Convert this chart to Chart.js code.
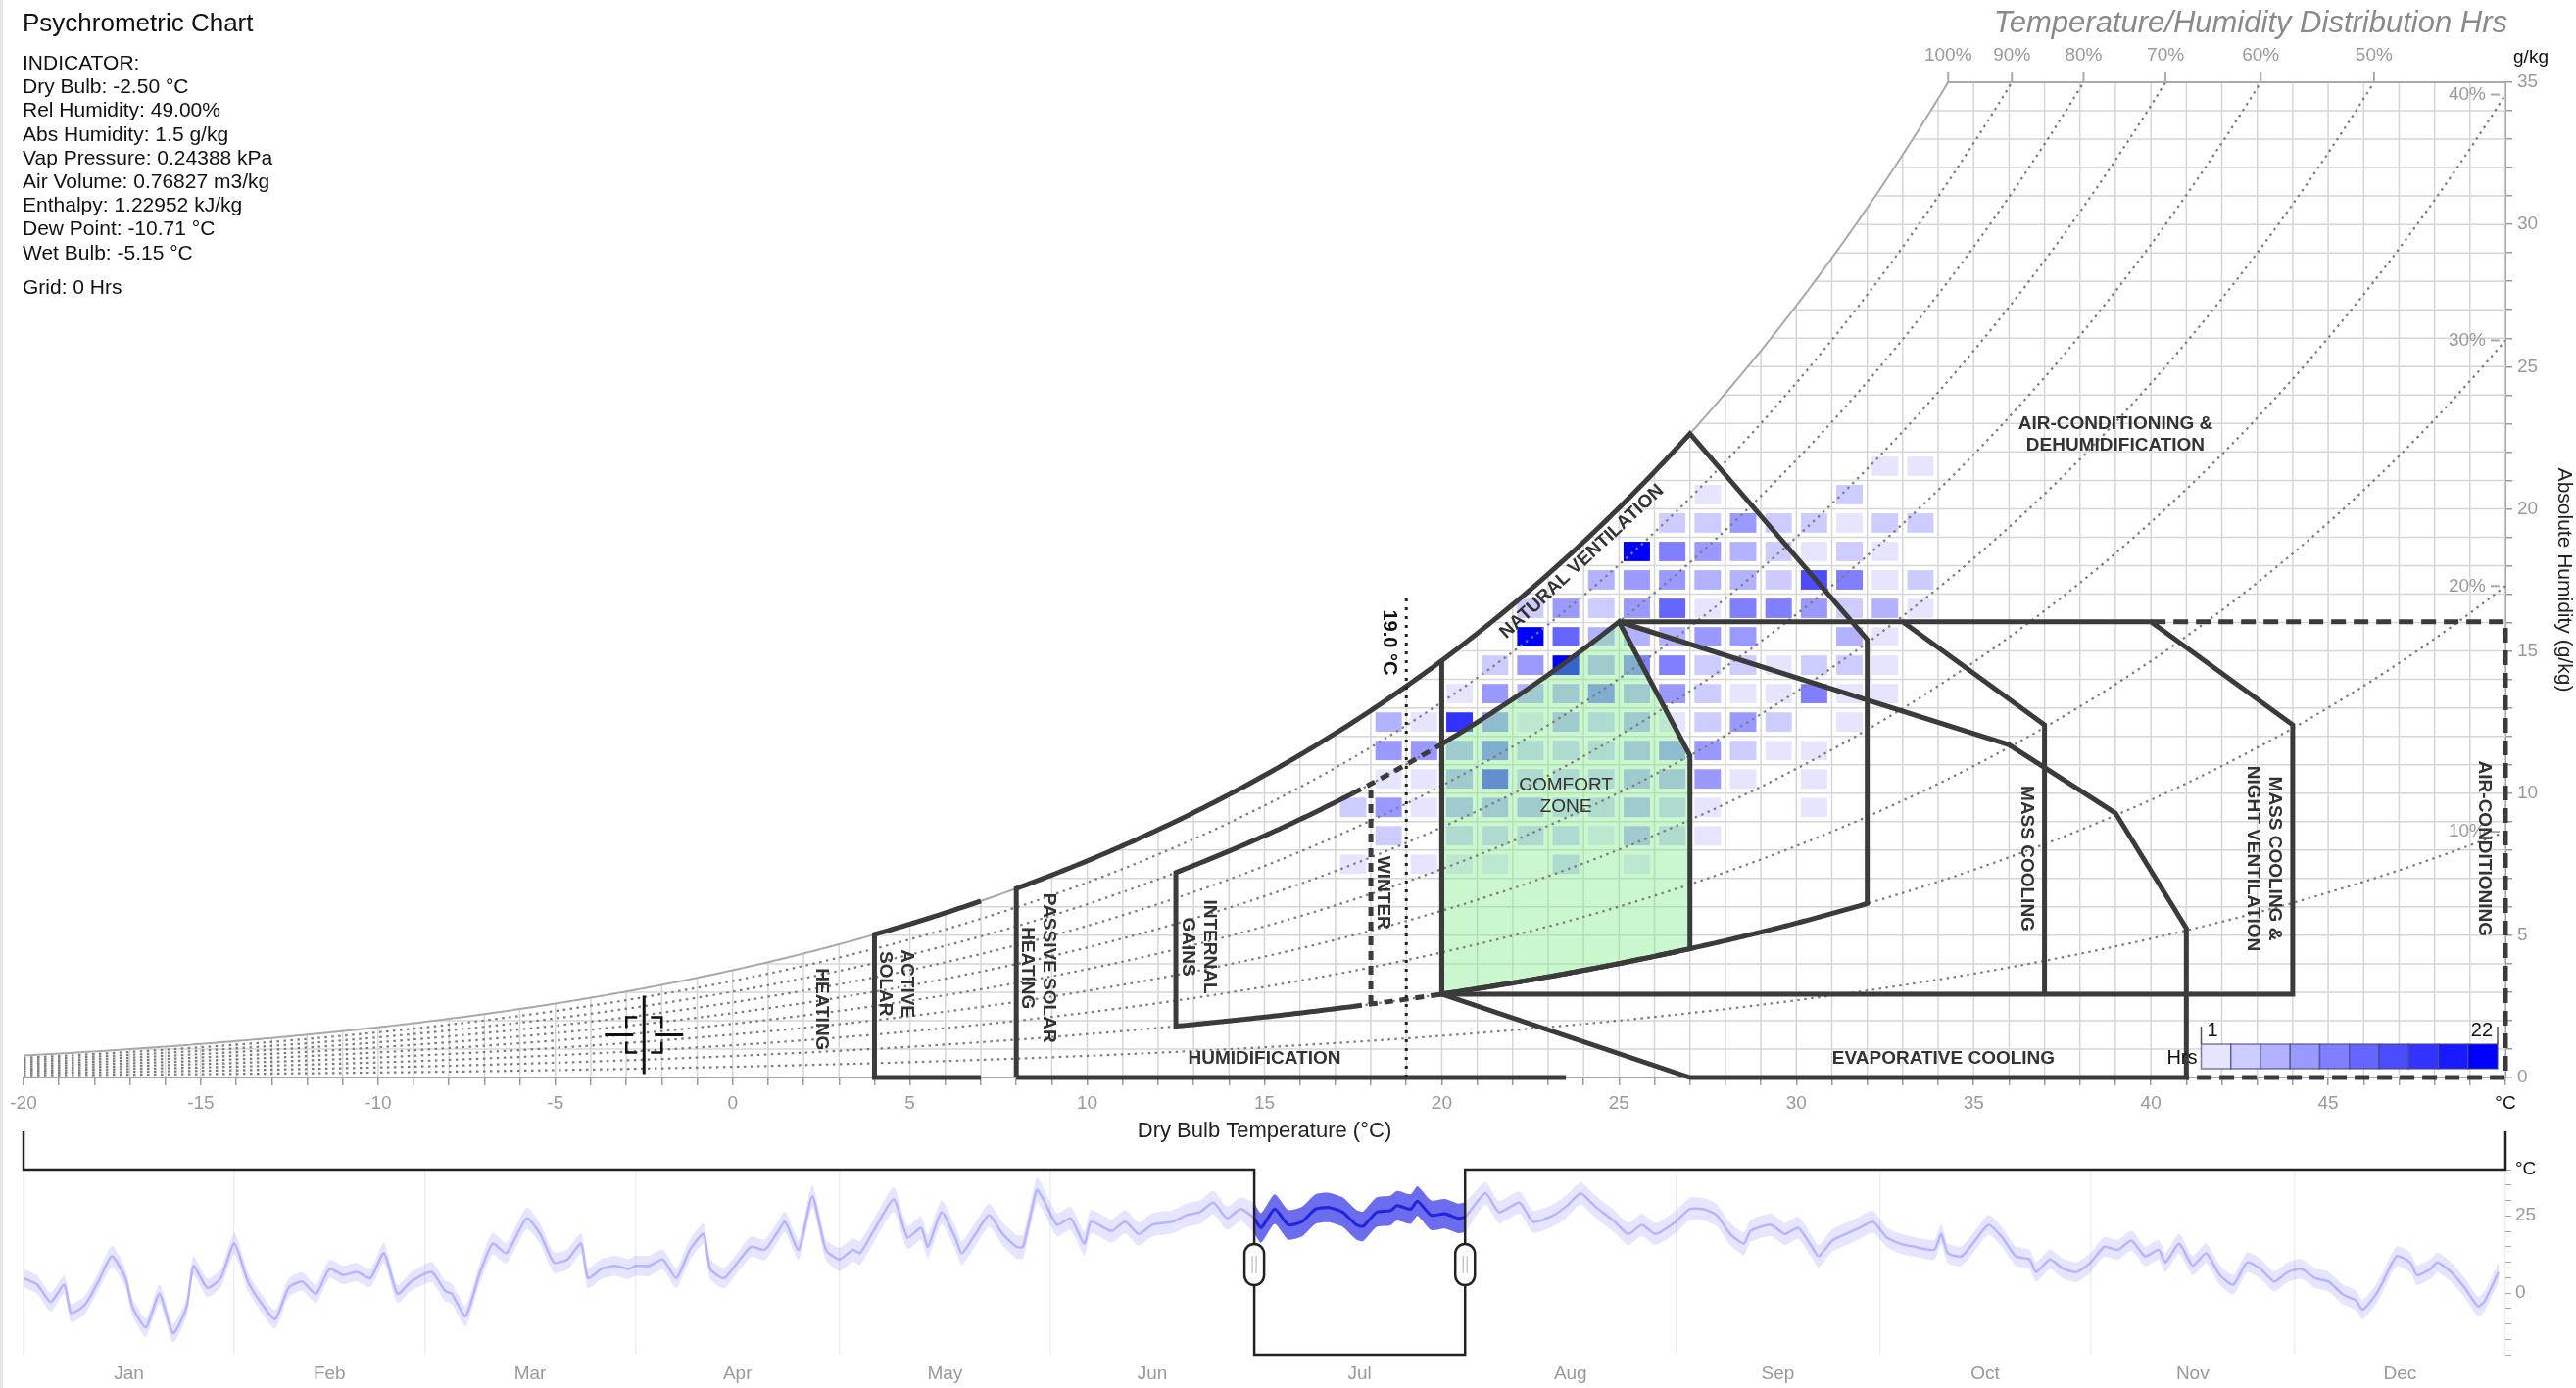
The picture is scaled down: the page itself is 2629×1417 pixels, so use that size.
<!DOCTYPE html>
<html>
<head>
<meta charset="utf-8">
<title>Psychrometric Chart</title>
<script src="https://cdn.jsdelivr.net/npm/chart.js@4.4.1/dist/chart.umd.min.js"></script>
<style>
  html, body { margin:0; padding:0; background:#fff; }
  body { width:2629px; height:1417px; position:relative; overflow:hidden; font-family:"Liberation Sans", Arial, Helvetica, sans-serif; }
  #frame { position:absolute; left:0; top:0; width:3px; height:1417px; background:#e6e6e6; }
  #psy { position:absolute; left:0; top:0; }
  #tl { position:absolute; left:0; top:1140px; }
  #title { position:absolute; left:23px; top:8px; font-size:26px; color:#111; white-space:nowrap; }
  #indicator { position:absolute; left:23px; top:52px; font-size:21px; line-height:24.2px; color:#111; white-space:nowrap; }
  #indicator .gap { margin-top:11px; }
  #rtitle { position:absolute; right:70px; top:5px; font-size:31px; font-style:italic; color:#8a8a8a; white-space:nowrap; }
</style>
</head>
<body>
<div id="frame"></div>
<canvas id="psy" width="2629" height="1180"></canvas>
<canvas id="tl" width="2629" height="277"></canvas>
<div id="title">Psychrometric Chart</div>
<div id="indicator">INDICATOR:<br>Dry Bulb: -2.50 °C<br>Rel Humidity: 49.00%<br>Abs Humidity: 1.5 g/kg<br>Vap Pressure: 0.24388 kPa<br>Air Volume: 0.76827 m3/kg<br>Enthalpy: 1.22952 kJ/kg<br>Dew Point: -10.71 °C<br>Wet Bulb: -5.15 °C<div class="gap">Grid: 0 Hrs</div></div>
<div id="rtitle">Temperature/Humidity Distribution Hrs</div>
<script>
const FF = '"Liberation Sans", Arial, Helvetica, sans-serif';
Chart.defaults.font.family = FF;

// ---------- chart ranges ----------
const tempMin = -20, tempMax = 50, humMax = 35;
const rhCurves = [0.1, 0.2, 0.3, 0.4, 0.5, 0.6, 0.7, 0.8, 0.9];
const topRhLabels = [1.0, 0.9, 0.8, 0.7, 0.6, 0.5];
const sideRhLabels = [0.4, 0.3, 0.2, 0.1];

// ---------- indicator ----------
const indicatorTemp = -2.5, indicatorHum = 1.5;

// ---------- July hourly distribution (1 °C x 1 g/kg cells) ----------
const heatRowHum   = [21, 20, 19, 18, 17, 16, 15, 14, 13, 12, 11, 10, 9, 8, 7];
const heatRowStart = [32, 27, 26, 25, 24, 22, 21, 21, 20, 18, 18, 18, 17, 17, 17];
const heatRowHours = [
  [2, 1],
  [2, 0, 0, 0, 3],
  [3, 4, 7, 3, 4, 1, 4, 4],
  [21, 10, 7, 5, 3, 1, 3, 2],
  [5, 8, 8, 5, 5, 3, 15, 9, 1, 3],
  [4, 8, 3, 8, 12, 2, 10, 9, 8, 3, 5, 2],
  [0, 22, 12, 5, 6, 5, 8, 7, 0, 0, 5, 1],
  [4, 8, 20, 6, 11, 11, 3, 3, 1, 3, 3, 2],
  [2, 8, 6, 6, 9, 5, 7, 4, 2, 1, 10, 2, 2],
  [5, 2, 17, 7, 2, 6, 3, 6, 2, 3, 8, 4, 0, 1],
  [8, 7, 6, 10, 4, 3, 4, 5, 8, 7, 4, 2, 1],
  [2, 2, 6, 14, 3, 3, 4, 5, 6, 8, 2, 0, 2],
  [4, 7, 2, 5, 5, 5, 4, 3, 5, 3, 1, 0, 0, 1],
  [0, 4, 0, 4, 4, 4, 4, 2, 5, 4, 2],
  [1, 0, 1, 2, 2, 0, 4, 0, 2]
];
const legendMin = 1, legendMax = 22, legendSteps = 10;

// ---------- yearly dry bulb temperature (day of year, °C) ----------
const monthNames = ['Jan','Feb','Mar','Apr','May','Jun','Jul','Aug','Sep','Oct','Nov','Dec'];
const monthStart = [0, 31, 59, 90, 120, 151, 181, 212, 243, 273, 304, 334, 365];
const selStart = 181, selEnd = 212;
const tlDay = [0,2,4,6,7,9,11,13,15,16,18,20,22,24,25,27,29,31,33,35,37,39,41,43,45,47,49,51,53,55,57,
  60,62,63,65,67,69,71,74,76,78,80,82,83,85,87,89,90,92,94,96,98,100,101,103,105,107,109,111,112,114,116,118,
  120,122,123,125,128,130,132,133,135,137,138,140,142,144,146,147,149,150,152,154,156,157,160,162,164,166,169,171,173,175,177,179,
  181,182,184,186,188,190,192,194,196,197,199,201,202,204,205,207,209,211,212,
  215,217,220,222,225,227,229,231,234,236,238,240,243,245,247,249,251,253,254,257,259,261,263,264,266,268,270,272,
  274,276,278,281,282,283,285,287,289,291,293,295,296,298,300,302,304,306,308,310,312,314,315,317,319,321,323,325,327,329,331,333,335,337,339,341,343,344,346,347,349,351,352,354,355,357,359,361,362,364];
const tlMean = [4.8,2.7,-2.9,2.7,-6.5,-3.9,3.7,11.9,4.8,-4.4,-11.1,-0.3,-13.1,-4.4,8.8,1.7,4.8,16.0,3.7,-3.4,-8.5,1.7,3.7,-0.3,7.8,5.8,6.8,4.8,12.9,-0.3,3.7,
  6.8,0.7,-0.3,-7.5,5.8,16.0,12.9,24.2,19.1,9.9,10.9,16.0,4.8,7.8,8.8,7.8,8.8,8.8,10.9,4.8,14.0,19.1,7.8,4.8,9.9,15.0,14.0,20.1,23.1,14.0,31.3,14.0,
  10.9,14.0,12.9,20.1,30.3,18.0,21.1,15.0,26.2,18.0,12.9,19.1,25.2,19.1,15.0,15.0,33.4,30.3,22.1,24.2,16.0,23.1,20.1,23.1,19.1,22.1,23.1,25.2,26.2,29.3,24.2,27.2,
  24.2,21.1,27.2,22.1,23.1,27.2,27.7,26.2,22.1,21.6,26.2,26.7,28.3,27.2,29.8,25.2,25.7,24.2,24.6,
  32.3,26.2,29.3,23.1,25.2,28.3,32.3,28.3,23.1,19.1,22.1,19.1,23.1,27.2,27.2,25.2,19.1,16.0,20.1,22.1,19.1,21.1,15.0,11.9,17.0,19.1,21.1,23.1,
  18.0,16.0,15.0,14.0,19.1,12.9,11.9,17.0,22.1,18.0,11.9,10.9,6.8,10.9,7.8,6.8,9.9,15.0,14.0,17.0,11.9,14.0,9.9,16.0,8.9,12.9,5.8,2.7,9.9,7.8,3.7,6.8,7.8,4.8,3.7,-0.3,-2.4,-5.4,-0.3,3.7,11.9,9.9,5.8,7.8,9.9,6.8,1.7,-4.4,-2.4,6.8];
const tlLow = [1.8,-0.3,-5.9,-0.3,-9.5,-6.9,0.7,8.4,1.8,-7.4,-14.1,-3.3,-16.1,-7.4,5.8,-1.3,1.8,12.5,0.7,-6.4,-11.5,-1.3,0.7,-3.3,4.8,2.8,3.8,1.8,9.6,-3.3,0.7,
  3.5,-2.6,-3.6,-10.8,2.5,12.5,9.6,20.7,15.8,6.6,7.6,12.7,1.5,4.5,5.5,4.5,5.5,5.5,7.6,1.5,10.7,15.8,4.5,1.5,6.6,11.7,10.7,16.8,19.8,10.7,27.6,10.7,
  7.1,10.2,9.1,16.3,26.3,14.2,17.3,11.2,22.4,14.2,9.1,15.3,21.4,15.3,11.2,11.2,29.4,26.5,18.3,20.4,12.2,19.3,16.3,19.3,15.3,18.3,19.3,21.4,22.4,25.5,20.4,23.4,
  19.4,16.3,22.4,17.3,18.3,22.4,22.9,21.4,17.3,16.8,21.4,21.9,23.5,22.4,25.0,20.4,20.9,19.4,19.8,
  28.7,22.6,25.7,19.5,21.6,24.7,28.7,24.7,19.5,15.5,18.5,15.5,19.5,23.6,23.6,21.6,15.5,12.4,16.5,18.5,15.5,17.5,11.4,8.3,13.4,15.5,17.5,19.5,
  14.8,12.8,11.8,10.8,15.9,9.7,8.7,13.8,18.9,14.8,8.7,7.7,3.6,7.7,4.6,3.6,6.7,11.8,10.8,13.8,8.7,10.8,6.7,12.8,5.7,9.7,2.6,-0.5,6.7,4.6,0.5,3.6,4.6,1.6,0.5,-3.5,-5.6,-8.6,-3.5,0.5,8.7,6.7,2.6,4.6,6.7,3.6,-1.5,-7.6,-5.6,3.6];
const tlHigh = [7.8,5.7,0.1,5.7,-3.5,-0.9,6.7,15.4,7.8,-1.4,-8.1,2.7,-10.1,-1.4,11.8,4.7,7.8,19.5,6.7,-0.4,-5.5,4.7,6.7,2.7,10.8,8.8,9.8,7.8,16.2,2.7,6.7,
  10.1,4.0,3.0,-4.2,9.1,19.5,16.2,27.7,22.4,13.2,14.2,19.3,8.1,11.1,12.1,11.1,12.1,12.1,14.2,8.1,17.3,22.4,11.1,8.1,13.2,18.3,17.3,23.4,26.4,17.3,35.0,17.3,
  14.7,17.8,16.7,23.9,34.3,21.8,24.9,18.8,30.0,21.8,16.7,22.9,29.0,22.9,18.8,18.8,37.4,34.1,25.9,28.0,19.8,26.9,23.9,26.9,22.9,25.9,26.9,29.0,30.0,33.1,28.0,31.0,
  29.0,25.9,32.0,26.9,27.9,32.0,32.5,31.0,26.9,26.4,31.0,31.5,33.1,32.0,34.6,30.0,30.5,29.0,29.4,
  35.9,29.8,32.9,26.7,28.8,31.9,35.9,31.9,26.7,22.7,25.7,22.7,26.7,30.8,30.8,28.8,22.7,19.6,23.7,25.7,22.7,24.7,18.6,15.5,20.6,22.7,24.7,26.7,
  21.2,19.2,18.2,17.2,22.3,16.1,15.1,20.2,25.3,21.2,15.1,14.1,10.0,14.1,11.0,10.0,13.1,18.2,17.2,20.2,15.1,17.2,13.1,19.2,12.1,16.1,9.0,5.9,13.1,11.0,6.9,10.0,11.0,8.0,6.9,2.9,0.8,-2.2,2.9,6.9,15.1,13.1,9.0,11.0,13.1,10.0,4.9,-1.2,0.8,10.0];

// ---------- psychrometrics ----------
function satPressure(t) { return 0.61094 * Math.exp(17.625 * t / (t + 243.04)); }
function satHum(t) { const p = satPressure(t); return 622 * p / (101.325 - p); }
function tempAtHum(w, r) {
  let lo = -40, hi = 90;
  for (let i = 0; i < 60; i++) { const m = (lo + hi) / 2; if (r * satHum(m) < w) lo = m; else hi = m; }
  return (lo + hi) / 2;
}
function rhPts(r, t1, t2) {
  const n = Math.max(2, Math.ceil(Math.abs(t2 - t1) / 0.1)), out = [];
  for (let i = 0; i <= n; i++) { const t = t1 + (t2 - t1) * i / n; out.push([t, r * satHum(t)]); }
  return out;
}
const tTop = tempAtHum(humMax, 1);
const base20 = 0.2 * satHum(20);
const peak = [25, 0.8 * satHum(25)];

// zone outlines in (°C, g/kg)
const zoneActiveSolar = [[7, 0], [4, 0], ...rhPts(1, 4, 7)];
const zonePassiveSolar = [[8, 0], [8, satHum(8)], ...rhPts(1, 8, 20)];
const zoneNatVent = [[20, base20], ...rhPts(1, 20, 27), [32, 15.4], [32, 0.2 * satHum(32)], ...rhPts(0.2, 32, 20)];
const zoneComfort = [[20, base20], [20, 0.8 * satHum(20)], ...rhPts(0.8, 20, 25), [27, 0.5 * satHum(27)], [27, 0.2 * satHum(27)], ...rhPts(0.2, 27, 20)];
const zoneMass = [peak, [33, peak[1]], [37, 12.4], [37, base20]];
const zoneNight = [[33, peak[1]], [40, peak[1]], [44, 12.4], [44, base20], [20, base20]];
const zoneEvap = [peak, [36, 11.7], [39, 9.3], [41, 5.25], [41, 0], [27, 0], [20, base20]];
const zoneAC = [[40, peak[1]], [50, peak[1]], [50, 0], [41, 0]];
const zoneGains = [...rhPts(0.8, 17.5, 12.5), ...rhPts(0.2, 12.5, 17.5)];
const zoneGainsTop = rhPts(0.8, 17.5, 20);
const zoneGainsBottom = rhPts(0.2, 17.5, 20);
const zoneWinter = [[18, 0.2 * satHum(18)], [18, 0.8 * satHum(18)]];
const line19 = [[19, 0], [19, 17]];
const zoneHumidBase = [[8, 0], [23.5, 0]];

const zoneLabels = [
  { text: ['HEATING'], t: 2.5, w: 2.4, rot: 90 },
  { text: ['ACTIVE', 'SOLAR'], t: 4.6, w: 3.3, rot: 90 },
  { text: ['PASSIVE SOLAR', 'HEATING'], t: 8.6, w: 3.85, rot: 90 },
  { text: ['INTERNAL', 'GAINS'], t: 13.15, w: 4.6, rot: 90 },
  { text: ['WINTER'], t: 18.35, w: 6.5, rot: 90 },
  { text: ['HUMIDIFICATION'], t: 15.0, w: 0.66, rot: 0 },
  { text: ['COMFORT', 'ZONE'], t: 23.5, w: 9.9, rot: 0, weight: 'normal' },
  { text: ['NATURAL VENTILATION'], t: 23.95, w: 18.14, rot: -43 },
  { text: ['AIR-CONDITIONING &', 'DEHUMIDIFICATION'], t: 39.0, w: 22.6, rot: 0 },
  { text: ['MASS COOLING'], t: 36.5, w: 7.7, rot: 90 },
  { text: ['MASS COOLING &', 'NIGHT VENTILATION'], t: 43.17, w: 7.7, rot: 90 },
  { text: ['EVAPORATIVE COOLING'], t: 34.15, w: 0.67, rot: 0 },
  { text: ['AIR-CONDITIONING'], t: 49.4, w: 8.05, rot: 90 },
  { text: ['19.0 °C'], t: 18.5, w: 15.3, rot: 90, color: '#111', size: 20 }
];

function cellAlpha(v) { return Math.ceil(v / (legendMax / legendSteps)) / legendSteps; }

const psyPlugin = {
  id: 'psyDraw',
  afterDraw(chart) {
    const ctx = chart.ctx, xs = chart.scales.x, ys = chart.scales.y;
    const X = v => xs.getPixelForValue(v), Y = v => ys.getPixelForValue(v);
    const trace = pts => { ctx.beginPath(); pts.forEach((p, i) => i ? ctx.lineTo(X(p[0]), Y(p[1])) : ctx.moveTo(X(p[0]), Y(p[1]))); };

    // grid under the saturation curve
    ctx.save();
    trace([...rhPts(1, tempMin, tTop), [tempMax, humMax], [tempMax, 0], [tempMin, 0]]);
    ctx.closePath(); ctx.clip();
    ctx.strokeStyle = '#d6d6d6'; ctx.lineWidth = 1.5;
    for (let t = tempMin; t <= tempMax; t++) { ctx.beginPath(); ctx.moveTo(X(t), Y(0)); ctx.lineTo(X(t), Y(humMax)); ctx.stroke(); }
    for (let w = 1; w < humMax; w++) { ctx.beginPath(); ctx.moveTo(X(tempMin), Y(w)); ctx.lineTo(X(tempMax), Y(w)); ctx.stroke(); }
    ctx.restore();

    // hourly cells
    const inset = 4.6;
    heatRowHours.forEach((row, i) => {
      const w = heatRowHum[i];
      row.forEach((v, j) => {
        if (!v) return;
        const t = heatRowStart[i] + j;
        const x0 = X(t) + inset, x1 = X(t + 1) - inset, y0 = Y(w + 1) + inset, y1 = Y(w) - inset;
        ctx.fillStyle = 'rgba(0,0,255,' + cellAlpha(v) + ')';
        ctx.fillRect(x0, y0, x1 - x0, y1 - y0);
      });
    });

    // comfort zone fill
    trace(zoneComfort); ctx.closePath();
    ctx.fillStyle = 'rgba(130,235,140,0.42)'; ctx.fill();

    // relative humidity curves
    ctx.save();
    ctx.strokeStyle = '#7c7c7c'; ctx.lineWidth = 2.2; ctx.setLineDash([2.5, 4.5]);
    rhCurves.forEach(r => { trace(rhPts(r, tempMin, Math.min(tempMax, tempAtHum(humMax, r)))); ctx.stroke(); });
    ctx.restore();

    // saturation curve and top axis
    ctx.strokeStyle = '#a9a9a9'; ctx.lineWidth = 2;
    trace([...rhPts(1, tempMin, tTop), [tempMax, humMax]]); ctx.stroke();
    ctx.fillStyle = '#9a9a9a'; ctx.font = '19px ' + FF; ctx.textAlign = 'center'; ctx.textBaseline = 'middle';
    topRhLabels.forEach(r => {
      const x = X(tempAtHum(humMax, r));
      ctx.beginPath(); ctx.moveTo(x, Y(humMax)); ctx.lineTo(x, Y(humMax) - 10); ctx.stroke();
      ctx.fillText(Math.round(r * 100) + '%', x, Y(humMax) - 27);
    });
    ctx.textAlign = 'right';
    sideRhLabels.forEach(r => {
      const y = Y(r * satHum(tempMax));
      ctx.fillText(Math.round(r * 100) + '%', X(tempMax) - 20, y);
      ctx.beginPath(); ctx.moveTo(X(tempMax) - 15, y); ctx.lineTo(X(tempMax) - 6, y); ctx.stroke();
    });
    ctx.fillStyle = '#111'; ctx.textAlign = 'center';
    ctx.fillText('g/kg', X(tempMax) + 26, Y(humMax) - 25);

    // zone outlines
    ctx.save();
    ctx.strokeStyle = '#3b3b3b'; ctx.lineWidth = 5; ctx.lineJoin = 'miter';
    [zoneActiveSolar, zonePassiveSolar, zoneMass, zoneNight, zoneEvap, zoneHumidBase].forEach(z => { trace(z); ctx.stroke(); });
    trace(zoneNatVent); ctx.closePath(); ctx.stroke();
    trace(zoneComfort); ctx.closePath(); ctx.stroke();
    trace(zoneGains); ctx.stroke();
    ctx.setLineDash([15, 8]); trace(zoneAC); ctx.stroke();
    ctx.setLineDash([9, 7]); trace(zoneGainsTop); ctx.stroke(); trace(zoneGainsBottom); ctx.stroke();
    ctx.setLineDash([9, 6]); trace(zoneWinter); ctx.stroke();
    ctx.lineWidth = 3; ctx.strokeStyle = '#222'; ctx.setLineDash([3, 6]); trace(line19); ctx.stroke();
    ctx.restore();

    // zone labels
    zoneLabels.forEach(l => {
      const size = l.size || 19;
      ctx.save();
      ctx.translate(X(l.t), Y(l.w));
      ctx.rotate((l.rot || 0) * Math.PI / 180);
      ctx.font = (l.weight || 'bold') + ' ' + size + 'px ' + FF;
      ctx.fillStyle = l.color || '#333';
      ctx.textAlign = 'center'; ctx.textBaseline = 'middle';
      const n = l.text.length;
      l.text.forEach((s, i) => ctx.fillText(s, 0, (i - (n - 1) / 2) * size * 1.15));
      ctx.restore();
    });

    // indicator crosshair
    const cx = X(indicatorTemp), cy = Y(indicatorHum), s = 18, a = 11;
    ctx.save();
    ctx.strokeStyle = '#111'; ctx.lineWidth = 3;
    ctx.beginPath(); ctx.moveTo(cx, cy - 40); ctx.lineTo(cx, cy + 40); ctx.stroke();
    ctx.beginPath(); ctx.moveTo(cx - 40, cy); ctx.lineTo(cx - 11, cy); ctx.moveTo(cx + 11, cy); ctx.lineTo(cx + 40, cy); ctx.stroke();
    ctx.lineWidth = 2.5;
    [[-1, -1], [1, -1], [-1, 1], [1, 1]].forEach(([dx, dy]) => {
      ctx.beginPath();
      ctx.moveTo(cx + dx * s, cy + dy * (s - a));
      ctx.lineTo(cx + dx * s, cy + dy * s);
      ctx.lineTo(cx + dx * (s - a), cy + dy * s);
      ctx.stroke();
    });
    ctx.restore();

    // hours legend
    const ca = chart.chartArea, bw = 30.25, bh = 25;
    const lx1 = ca.right - 8, lx0 = lx1 - bw * legendSteps, ly0 = ca.bottom - 34;
    for (let i = 0; i < legendSteps; i++) {
      ctx.fillStyle = '#fff'; ctx.fillRect(lx0 + i * bw, ly0, bw, bh);
      ctx.fillStyle = 'rgba(0,0,255,' + ((i + 1) / legendSteps) + ')';
      ctx.fillRect(lx0 + i * bw, ly0, bw, bh);
      ctx.strokeStyle = 'rgba(70,70,130,0.7)'; ctx.lineWidth = 1.5;
      ctx.strokeRect(lx0 + i * bw, ly0, bw, bh);
    }
    ctx.strokeStyle = '#555'; ctx.lineWidth = 1.5;
    ctx.beginPath(); ctx.moveTo(lx0, ly0 - 18); ctx.lineTo(lx0, ly0); ctx.moveTo(lx1, ly0 - 18); ctx.lineTo(lx1, ly0); ctx.stroke();
    ctx.fillStyle = '#111'; ctx.font = '20px ' + FF; ctx.textBaseline = 'middle';
    ctx.textAlign = 'left'; ctx.fillText(String(legendMin), lx0 + 6, ly0 - 14);
    ctx.textAlign = 'right'; ctx.fillText(String(legendMax), lx1 - 5, ly0 - 14);
    ctx.fillText('Hrs', lx0 - 4, ly0 + 14);
  }
};

new Chart(document.getElementById('psy'), {
  type: 'scatter',
  data: { datasets: [] },
  options: {
    responsive: false, animation: false,
    layout: { padding: { left: 24, top: 84, right: 0, bottom: 0 } },
    plugins: { legend: { display: false }, tooltip: { enabled: false } },
    scales: {
      x: {
        type: 'linear', position: 'bottom', min: tempMin, max: tempMax,
        afterBuildTicks: s => { s.ticks = []; for (let v = tempMin; v <= tempMax; v++) s.ticks.push({ value: v }); },
        ticks: { autoSkip: false, maxRotation: 0, minRotation: 0, padding: 7,
          callback: v => v === tempMax ? '°C' : (v % 5 === 0 ? String(v) : ''),
          color: c => (c.tick && c.tick.value === tempMax) ? '#111' : '#9a9a9a', font: { size: 19 } },
        grid: { drawOnChartArea: false, drawTicks: true, tickLength: 8, color: '#9a9a9a', lineWidth: 1.5 },
        border: { display: true, color: '#a6a6a6', width: 2 },
        title: { display: true, text: 'Dry Bulb Temperature (°C)', color: '#222', font: { size: 22 }, padding: { top: 2, bottom: 12 } },
        afterFit: s => { s.height = 80; }
      },
      y: {
        type: 'linear', position: 'right', min: 0, max: humMax,
        afterBuildTicks: s => { s.ticks = []; for (let v = 0; v <= humMax; v++) s.ticks.push({ value: v }); },
        ticks: { autoSkip: false, padding: 5, callback: v => v % 5 === 0 ? String(v) : '', color: '#9a9a9a', font: { size: 19 } },
        grid: { drawOnChartArea: false, drawTicks: true, tickLength: 7, color: '#9a9a9a', lineWidth: 1.5 },
        border: { display: true, color: '#a6a6a6', width: 2 },
        title: { display: true, text: 'Absolute Humidity (g/kg)', color: '#222', font: { size: 21 }, padding: { top: 0, bottom: 4 } },
        afterFit: s => { s.width = 72; }
      }
    }
  },
  plugins: [psyPlugin]
});

// ---------- yearly timeline ----------
const meanPts = tlDay.map((d, i) => ({ x: d, y: tlMean[i] }));
const highPts = tlDay.map((d, i) => ({ x: d, y: tlHigh[i] }));
const lowPts = tlDay.map((d, i) => ({ x: d, y: tlLow[i] }));
const inSel = p => p.x >= selStart && p.x <= selEnd;
const monthMid = monthNames.map((m, i) => (monthStart[i] + monthStart[i + 1]) / 2);

const selPlugin = {
  id: 'selection',
  afterDraw(chart) {
    const ctx = chart.ctx, xs = chart.scales.x, ca = chart.chartArea;
    const a = xs.getPixelForValue(selStart), b = xs.getPixelForValue(selEnd);
    ctx.save();
    ctx.strokeStyle = '#222'; ctx.lineWidth = 2.5;
    ctx.beginPath();
    ctx.moveTo(ca.left, 15); ctx.lineTo(ca.left, ca.top); ctx.lineTo(a, ca.top); ctx.lineTo(a, ca.bottom);
    ctx.lineTo(b, ca.bottom); ctx.lineTo(b, ca.top); ctx.lineTo(ca.right, ca.top); ctx.lineTo(ca.right, 15);
    ctx.stroke();
    [a, b].forEach(x => {
      const hw = 10, hh = 21, y = ca.top + 97;
      ctx.beginPath(); ctx.roundRect(x - hw, y - hh, hw * 2, hh * 2, hw);
      ctx.fillStyle = '#fff'; ctx.fill(); ctx.lineWidth = 2.5; ctx.strokeStyle = '#222'; ctx.stroke();
      ctx.strokeStyle = '#bbb'; ctx.lineWidth = 1.2;
      ctx.beginPath(); ctx.moveTo(x - 2, y - 9); ctx.lineTo(x - 2, y + 9); ctx.moveTo(x + 2, y - 9); ctx.lineTo(x + 2, y + 9); ctx.stroke();
    });
    ctx.restore();
  }
};

new Chart(document.getElementById('tl'), {
  type: 'line',
  data: {
    datasets: [
      { data: highPts, borderWidth: 0, pointRadius: 0, fill: '+1', backgroundColor: 'rgba(40,40,255,0.12)', tension: 0.2 },
      { data: lowPts, borderWidth: 0, pointRadius: 0, fill: false, tension: 0.2 },
      { data: meanPts, borderColor: 'rgba(60,60,255,0.28)', borderWidth: 2.5, pointRadius: 0, fill: false, tension: 0.2 },
      { data: highPts.filter(inSel), borderWidth: 0, pointRadius: 0, fill: '+1', backgroundColor: 'rgba(25,25,225,0.6)', tension: 0.2 },
      { data: lowPts.filter(inSel), borderWidth: 0, pointRadius: 0, fill: false, tension: 0.2 },
      { data: meanPts.filter(inSel), borderColor: '#1c1cb4', borderWidth: 3, pointRadius: 0, fill: false, tension: 0.2 }
    ]
  },
  options: {
    responsive: false, animation: false,
    layout: { padding: { left: 24, top: 54, right: 0, bottom: 0 } },
    plugins: { legend: { display: false }, tooltip: { enabled: false } },
    scales: {
      x: { type: 'linear', position: 'bottom', min: 0, max: 365,
        afterBuildTicks: s => { s.ticks = monthStart.map(v => ({ value: v })); },
        ticks: { display: false }, grid: { color: '#efefef', lineWidth: 1.5, drawTicks: false }, border: { display: false },
        afterFit: s => { s.height = 0; } },
      xm: { type: 'linear', position: 'bottom', min: 0, max: 365,
        afterBuildTicks: s => { s.ticks = monthMid.map(v => ({ value: v })); },
        ticks: { autoSkip: false, maxRotation: 0, padding: 0, color: '#9a9a9a', font: { size: 19 },
          callback: v => monthNames[monthMid.indexOf(v)] },
        grid: { display: false }, border: { display: false },
        afterFit: s => { s.height = 34; } },
      y: { type: 'linear', position: 'right', min: -20, max: 40,
        afterBuildTicks: s => { s.ticks = []; for (let v = -20; v <= 40; v += 5) s.ticks.push({ value: v }); },
        ticks: { autoSkip: false, padding: 4, font: { size: 19 },
          callback: v => v === 40 ? '°C' : ((v === 25 || v === 0) ? String(v) : ''),
          color: c => (c.tick && c.tick.value === 40) ? '#111' : '#9a9a9a' },
        grid: { drawOnChartArea: false, drawTicks: true, tickLength: 6, color: '#aaa' }, border: { display: false },
        afterFit: s => { s.width = 72; } }
    }
  },
  plugins: [selPlugin]
});
</script>
</body>
</html>
